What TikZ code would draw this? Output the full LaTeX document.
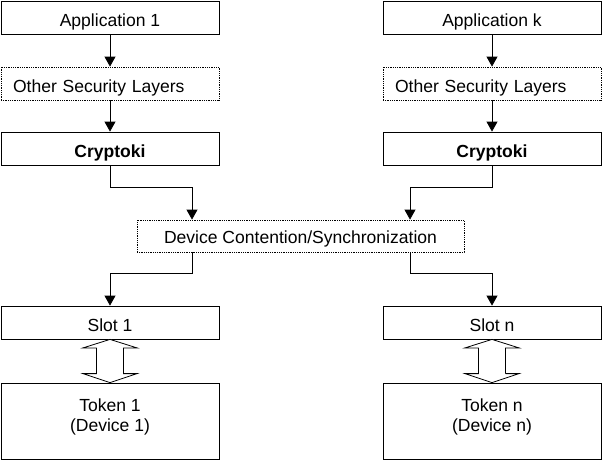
\documentclass[tikz,border=0pt]{standalone}
\usepackage{fontspec}
\setmainfont{Liberation Sans}
\usepackage{tikz}
\usetikzlibrary{arrows.meta}

\begin{document}
\begin{tikzpicture}[
  frame/.style={draw,line width=0.8bp,minimum width=218bp,minimum height=33bp,inner sep=0pt,font=\fontsize{17.6}{20}\selectfont},
  box/.style={frame,text height=18bp,text depth=0pt},
  layer/.style={box,densely dotted,text width=194bp,align=left,inner xsep=12bp},
  token/.style={frame,minimum height=76bp,align=center},
  flow/.style={-{Triangle[length=10bp,width=11bp]},line width=0.8bp},
  link/.style={line width=0.8bp,fill=white}]
\useasboundingbox (0,0) rectangle (603bp,-462bp);

\node (app1) at (110bp,-17.5bp)[box] {Application 1};
\node (appk) at (492bp,-17.5bp)[box] {Application k};
\node (osl1) at (110bp,-83.5bp)[layer] {Other Security Layers};
\node (oslk) at (492bp,-83.5bp)[layer] {Other Security Layers};
\node (crypto1) at (110bp,-148.5bp)[box] {\bfseries Cryptoki};
\node (cryptok) at (492bp,-148.5bp)[box] {\bfseries Cryptoki};
\node (dev) at (300.5bp,-236bp)[box,densely dotted,minimum width=327bp,minimum height=32bp,text height=15bp] {Device Contention/Synchronization};
\node (slot1) at (110bp,-322.5bp)[box] {Slot 1};
\node (slotn) at (492bp,-322.5bp)[box] {Slot n};
\node (token1) at (110bp,-421bp)[token] {Token 1\\(Device 1)\\[-8bp]\mbox{}};
\node (tokenn) at (492bp,-421bp)[token] {Token n\\(Device n)\\[-8bp]\mbox{}};

\draw [flow] (app1) to (osl1);
\draw [flow] (appk) to (oslk);
\draw [flow] (osl1) to (crypto1);
\draw [flow] (oslk) to (cryptok);
\draw [flow] (crypto1.south) -- ++(0,-22bp) -| ([xshift=-108.5bp]dev.north);
\draw [flow] (cryptok.south) -- ++(0,-22bp) -| ([xshift=109.5bp]dev.north);
\draw [flow] ([xshift=-108.5bp]dev.south) -- ++(0,-21bp) -| (slot1.north);
\draw [flow] ([xshift=109.5bp]dev.south) -- ++(0,-21bp) -| (slotn.north);

\draw [link] (slot1.south) -- ++(27bp,-8.5bp) -- ++(-13.5bp,0) |- ([shift={(13.5bp,9bp)}]token1.north) -- ++(13.5bp,0) -- (token1.north) -- ++(-27bp,9bp) -- ++(13.5bp,0) |- ([shift={(-13.5bp,-8.5bp)}]slot1.south) -- ++(-13.5bp,0) -- cycle;
\draw [link] (slotn.south) -- ++(27bp,-8.5bp) -- ++(-13.5bp,0) |- ([shift={(13.5bp,9bp)}]tokenn.north) -- ++(13.5bp,0) -- (tokenn.north) -- ++(-27bp,9bp) -- ++(13.5bp,0) |- ([shift={(-13.5bp,-8.5bp)}]slotn.south) -- ++(-13.5bp,0) -- cycle;

\end{tikzpicture}
\end{document}
